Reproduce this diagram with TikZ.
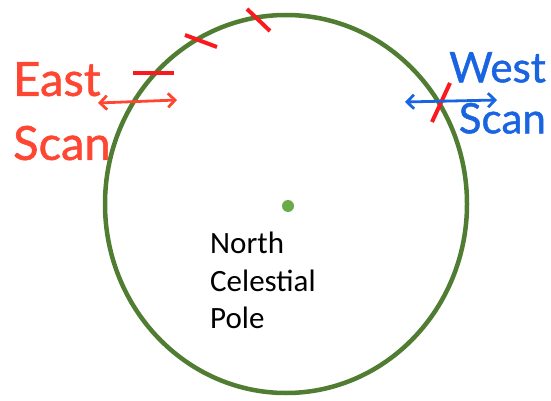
\documentclass[tikz,border=0pt]{standalone}
\usepackage{fontspec}
\usepackage{xcolor}
\usepackage{tikz}
\usetikzlibrary{arrows.meta, positioning, calc}
\newfontfamily\scanfont[FakeBold=1.2]{Lato}
\newfontfamily\polefont{Carlito}
\definecolor{skygreen}{RGB}{80, 125, 50}
\definecolor{poledot}{RGB}{105, 170, 75}
\definecolor{tickred}{RGB}{250, 25, 30}
\definecolor{eastred}{RGB}{255, 70, 50}
\definecolor{westblue}{RGB}{25, 100, 225}

\begin{document}
\begin{tikzpicture}[
  x=1pt, y=-1pt,
  tick/.style={draw=tickred, line width=4pt},
  scanarrow/.style={line width=2.8pt, {Straight Barb[length=7pt,width=14pt]}-{Straight Barb[length=7pt,width=14pt]}},
  scanlabel/.style={inner sep=0pt, font=\scanfont\fontsize{47}{64}\selectfont},
  >=Stealth
]
  \useasboundingbox (0,0) rectangle (551,401);

  % sky circle and pole
  \draw[skygreen, line width=4.5pt] (286,204) ellipse [x radius=181, y radius=189];
  \node[circle, fill=poledot, inner sep=0pt, minimum size=12pt] (pole) at (288,206) {};
  \node[anchor=north west, inner sep=0pt, align=left,
        font=\polefont\fontsize{31}{37.5}\selectfont] (ncp) at (210,232)
        {North\\Celestial\\Pole};

  % ticks along the circle
  \draw[tick] (247,9) -- (270,31);
  \draw[tick] (185,35) -- (217,47);
  \draw[tick] (133,73) -- (174,73);
  \draw[tick] (432,122) -- (450,83);

  % east scan
  \node[scanlabel, anchor=north west, align=left, text=eastred] (east) at (13,62) {East\\Scan};
  \coordinate (eastL) at (98,103);
  \coordinate (eastR) at (177,100);
  \draw[scanarrow, eastred] (eastL) -- (eastR);

  % west scan
  \node[scanlabel, anchor=north east, align=right, text=westblue,
        font=\scanfont\fontsize{42}{51}\selectfont] (west) at (546,52) {West\\Scan};
  \coordinate (westL) at (405,102);
  \coordinate (westR) at (497,100);
  \draw[scanarrow, westblue] (westL) -- (westR);
\end{tikzpicture}
\end{document}
